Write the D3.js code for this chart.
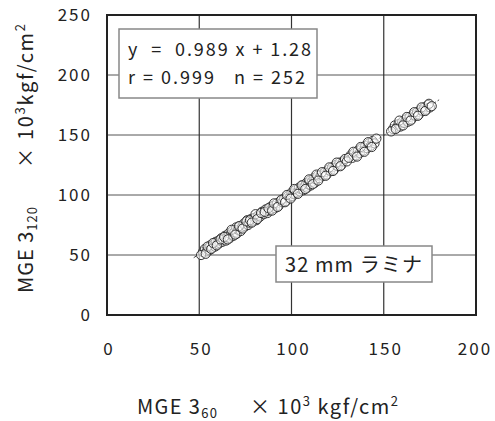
<!DOCTYPE html>
<html><head><meta charset="utf-8">
<script src="https://cdn.jsdelivr.net/npm/d3@7/dist/d3.min.js"></script>
<style>
body{margin:0;background:#fff;}
svg{display:block;}
text{font-family:"Noto Sans CJK JP","Noto Sans",sans-serif;fill:#222;white-space:pre;}
</style></head>
<body>
<svg id="chart" width="495" height="421"></svg>
<script>
const xTicks = [0, 50, 100, 150, 200];
const yTicks = [0, 50, 100, 150, 200, 250];
const xVals = [52,53,54,55,55.5,56,57,58,58.5,59,60,60.5,61,62,62.5,63,64,64.5,65,66,66.5,67,68,68.5,69,70,70.5,71,72,72.5,73,74,75,76,76.5,77,78,79,80,81,82,83,84,85,86,87,88,88.5,89,90,91,92,93,94,95,96,97,98,99,100,100.5,101,102,103,104,104.5,105,106,106.5,107,108,108.5,109,110,110.5,111,112,112.5,113,114,115,116,117,118,119,120,121,122,123,124,125,126,127,128,132,133,134,135,136,137,138,139,140,141,142,143,144,145,155,156,157,158,159,160,161,162,163,164,165,166,167,168,169,170,171,172,173,174,175,
  51,53.5,54.5,56.5,57.5,59.5,61.5,63.5,65.5,67.5,69.5,71.5,73.5,75.5,77.5,78.5,80.5,81.5,83.5,85.5,87.5,89.5,90.5,92.5,94.5,96.5,97.5,99.5,101.5,103.5,105.5,107.5,109.5,111.5,113.5,114.5,116.5,118.5,120.5,122.5,124.5,126.5,129,130,131,133.5,135.5,137.5,139.5,141.5,143.5,146,154,156.5,158.5,160.5,162.5,164.5,166.5,168.5,170.5,172.5,174.5,176];
const yVals = [52.5,55,53,56,54,58,56,59,57,61,59,62,60,64,61,63,66,62,65,68,64,67,70,66,69,73,68,71,74,70,73,76,74,79,75,77,80,78,81,79,83,82,86,84,88,85,87,90,88,91,89,93,91,95,94,97,95,99,98,102,99,101,104,102,106,103,105,108,104,107,110,106,109,112,108,111,114,110,113,116,114,117,116,119,117,121,120,123,121,125,124,127,125,128,133,131,135,133,137,135,139,137,141,139,143,141,145,143,155,158,156,159,157,161,160,163,161,165,163,167,166,169,167,171,170,173,171,175,173,
  50,51,57,55,60,58,63,65,63,71,67,74,72,78,79,77,84,80,85,86,89,87,93,90,96,94,100,97,105,101,108,105,113,109,117,112,119,116,123,120,127,124,130,128,131,136,132,140,136,144,140,147,153,155,162,158,165,162,169,166,173,170,176,174];
const fitLine = [47, 180];
const slope = 0.989, intercept = 1.28;
const eqLine1 = "y  =  0.989 x + 1.28";
const eqLine2 = "r = 0.999   n = 252";
const specimen = "32 mm ラミナ";

const svg = d3.select("#chart");
const x = d3.scaleLinear().domain([0, 200]).range([107, 476]);
const y = d3.scaleLinear().domain([0, 250]).range([315, 15]);

// grid
svg.append("g").selectAll("line").data(yTicks.filter(d => d > 0 && d < 250)).join("line")
  .attr("x1", x(0)).attr("x2", x(200)).attr("y1", d => y(d)).attr("y2", d => y(d))
  .attr("stroke", "#555").attr("stroke-width", 1);
svg.append("g").selectAll("line").data(xTicks.filter(d => d > 0 && d < 200)).join("line")
  .attr("y1", y(0)).attr("y2", y(250)).attr("x1", d => x(d)).attr("x2", d => x(d))
  .attr("stroke", "#333").attr("stroke-width", 1.2);

// frame
svg.append("rect").attr("x", x(0)).attr("y", y(250)).attr("width", x(200) - x(0)).attr("height", y(0) - y(250))
  .attr("fill", "none").attr("stroke", "#222").attr("stroke-width", 2);

// fit line
svg.append("line").attr("x1", x(fitLine[0])).attr("y1", y(slope * fitLine[0] + intercept))
  .attr("x2", x(fitLine[1])).attr("y2", y(slope * fitLine[1] + intercept))
  .attr("stroke", "#444").attr("stroke-width", 1).attr("stroke-dasharray", "3,2");

// points
svg.append("g").selectAll("circle").data(xVals.map((v, i) => [v, yVals[i]])).join("circle")
  .attr("cx", d => x(d[0])).attr("cy", d => y(d[1])).attr("r", 4.6)
  .attr("fill", "#fff").attr("fill-opacity", 0.55).attr("stroke", "#333").attr("stroke-width", 1);

// tick labels
svg.append("g").selectAll("text").data(yTicks).join("text")
  .attr("x", 92).attr("y", d => y(d)).attr("dy", "0.36em").attr("text-anchor", "end")
  .attr("font-size", 17).attr("letter-spacing", 2).text(d => d);
svg.append("g").selectAll("text").data(xTicks).join("text")
  .attr("x", (d, i) => x(d) + (i === xTicks.length - 1 ? -1 : 2)).attr("y", 355).attr("text-anchor", "middle")
  .attr("font-size", 17).attr("letter-spacing", 2).text(d => d);

// equation box
svg.append("rect").attr("x", 119).attr("y", 29).attr("width", 198).attr("height", 69)
  .attr("fill", "#fff").attr("stroke", "#888").attr("stroke-width", 1.5);
svg.append("text").attr("x", 128).attr("y", 56).attr("font-size", 18)
  .attr("textLength", 183).attr("lengthAdjust", "spacing").text(eqLine1);
svg.append("text").attr("x", 128).attr("y", 84).attr("font-size", 18)
  .attr("textLength", 177).attr("lengthAdjust", "spacing").text(eqLine2);

// specimen box
svg.append("rect").attr("x", 276).attr("y", 246).attr("width", 156).attr("height", 36)
  .attr("fill", "#fff").attr("stroke", "#888").attr("stroke-width", 1.5);
svg.append("text").attr("x", 285).attr("y", 272).attr("font-size", 20)
  .attr("textLength", 137).attr("lengthAdjust", "spacing").text(specimen);

// x axis title
const xt1 = svg.append("text").attr("x", 137).attr("y", 414).attr("font-size", 20)
  .attr("textLength", 80).attr("lengthAdjust", "spacing");
xt1.append("tspan").text("MGE 3");
xt1.append("tspan").attr("font-size", 13).attr("dy", 4).text("60");
const xt2 = svg.append("text").attr("x", 250).attr("y", 414).attr("font-size", 20)
  .attr("textLength", 148).attr("lengthAdjust", "spacing");
xt2.append("tspan").text("× 10");
xt2.append("tspan").attr("font-size", 13).attr("dy", -8).text("3");
xt2.append("tspan").attr("dy", 8).text(" kgf/cm");
xt2.append("tspan").attr("font-size", 13).attr("dy", -8).text("2");

// y axis title
const yg = svg.append("g").attr("transform", "translate(33,0) rotate(-90)");
const yt1 = yg.append("text").attr("x", -293).attr("y", 0).attr("font-size", 20)
  .attr("textLength", 86).attr("lengthAdjust", "spacing");
yt1.append("tspan").text("MGE 3");
yt1.append("tspan").attr("font-size", 13).attr("dy", 4).text("120");
const yt2 = yg.append("text").attr("x", -168).attr("y", 0).attr("font-size", 20)
  .attr("textLength", 144).attr("lengthAdjust", "spacing");
yt2.append("tspan").text("× 10");
yt2.append("tspan").attr("font-size", 13).attr("dy", -8).text("3");
yt2.append("tspan").attr("dy", 8).text("kgf/cm");
yt2.append("tspan").attr("font-size", 13).attr("dy", -8).text("2");
</script>
</body></html>
